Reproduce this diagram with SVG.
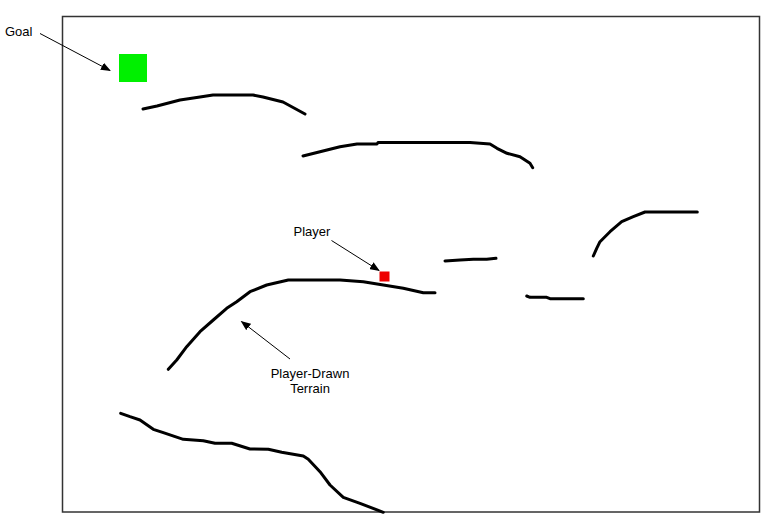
<svg xmlns="http://www.w3.org/2000/svg" width="774" height="527" viewBox="0 0 774 527">
<style>
.terrain{fill:none;stroke:#000;stroke-width:3;stroke-linecap:round;stroke-linejoin:round}
.lbl{font-family:"Liberation Sans",Arial,sans-serif;font-size:13px;fill:#000}
.conn{fill:none;stroke:#000;stroke-width:1}
</style>
<defs>
<marker id="ah" markerWidth="10" markerHeight="8" refX="9" refY="4" orient="auto" markerUnits="userSpaceOnUse">
<path d="M0,0 L10,4 L0,8 Z" fill="#000"/>
</marker>
</defs>
<rect width="774" height="527" fill="#fff"/>
<g id="frame">
<rect x="62.5" y="16.5" width="697" height="495.5" fill="none" stroke="#333" stroke-width="1.5"/>
</g>
<g id="terrain">
<polyline class="terrain" points="143,109 157,106 180,100 200,97 213,95 222,95 253,95 263,97 283,102 305,114"/>
<polyline class="terrain" points="303,156 320,151.7 340,146.7 357,144 377,144 378,142.5 470,142.5 490,144 497,148.3 507,153.3 520,156.7 530,163.3 532.7,167.7"/>
<polyline class="terrain" points="168.3,369.3 176.7,360 186.7,346.7 200,331.7 213.3,320 226.7,308.3 236.7,301.7 250,291.7 266.7,285 288.3,280 340,280 363.3,281.7 383.3,285 403.3,288.3 423.3,292.7 435,292.7"/>
<polyline class="terrain" points="445,261 460,260 473.3,259.3 486.7,259.3 496,258.3"/>
<polyline class="terrain" points="526.7,296 530,297.3 546.7,297.3 550,298.7 583.3,298.7"/>
<polyline class="terrain" points="593.3,256 596.7,248.3 600,241.7 610,231.7 621.7,221.7 633.3,216.7 645,212 697.3,212"/>
<polyline class="terrain" points="120.7,413.3 130,416.7 140,420 153.3,429.3 163.3,432.7 183.3,439.3 203.3,440.7 215,443.3 231.7,443.3 250,449 268.3,449.3 281.7,452.3 303.3,456 308.3,459.3 320,471.7 330,485 343.3,497.3 360,503.3 383.3,512.3"/>
</g>
<g id="goal">
<rect x="119" y="54" width="28" height="28" fill="#00f000"/>
<text class="lbl" x="5" y="36">Goal</text>
</g>
<g id="player">
<rect x="379.5" y="271.5" width="10" height="10" fill="#ee0000"/>
<text class="lbl" x="312" y="236" text-anchor="middle">Player</text>
</g>
<g id="terrain-label">
<text class="lbl" x="310" y="378" text-anchor="middle">Player-Drawn</text>
<text class="lbl" x="310" y="393" text-anchor="middle">Terrain</text>
</g>
<g id="connectors">
<line class="conn" x1="40" y1="33.5" x2="110" y2="70.5" marker-end="url(#ah)"/>
<line class="conn" x1="331.5" y1="240.5" x2="379" y2="270.5" marker-end="url(#ah)"/>
<line class="conn" x1="290" y1="359" x2="241.5" y2="321.5" marker-end="url(#ah)"/>
</g>
</svg>
